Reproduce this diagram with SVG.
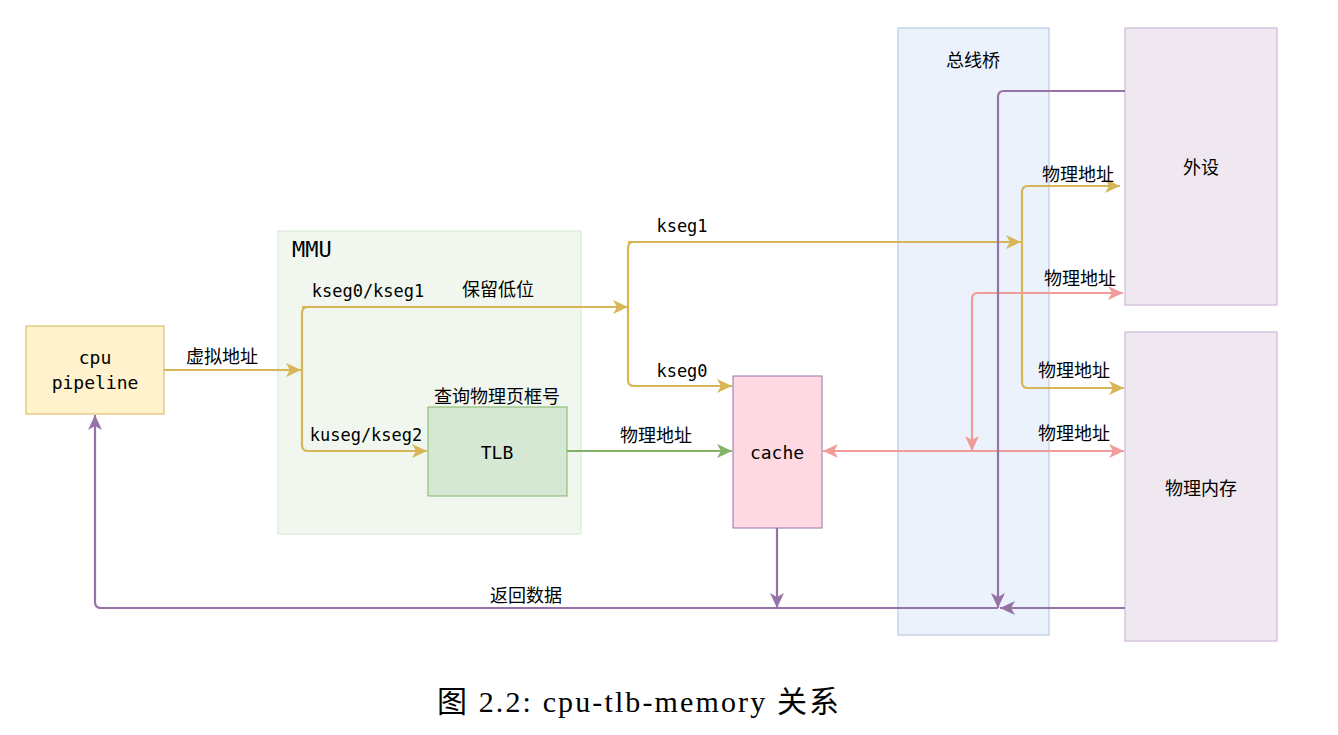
<svg xmlns="http://www.w3.org/2000/svg" width="1338" height="735" viewBox="0 0 1338 735">
<style>
.mono{font-family:"DejaVu Sans Mono","Liberation Mono",monospace;fill:#000}
.cjk{font-family:"Noto Sans CJK SC","Noto Sans",sans-serif;fill:#000;font-size:18px}
.c{text-anchor:middle}
.e{fill:none;stroke-width:2.2}
.y{stroke:#d6b656}.g{stroke:#82b366}.p{stroke:#f19c99}.v{stroke:#9673a6}
</style>
<defs>
<marker id="ay" markerWidth="17" markerHeight="16" refX="15" refY="8" orient="auto" markerUnits="userSpaceOnUse"><path d="M0,1 L15,8 L0,15 L4,8 z" fill="#d6b656"/></marker>
<marker id="ag" markerWidth="17" markerHeight="16" refX="15" refY="8" orient="auto" markerUnits="userSpaceOnUse"><path d="M0,1 L15,8 L0,15 L4,8 z" fill="#82b366"/></marker>
<marker id="ap" markerWidth="17" markerHeight="16" refX="15" refY="8" orient="auto-start-reverse" markerUnits="userSpaceOnUse"><path d="M0,1 L15,8 L0,15 L4,8 z" fill="#f19c99"/></marker>
<marker id="av" markerWidth="17" markerHeight="16" refX="15" refY="8" orient="auto" markerUnits="userSpaceOnUse"><path d="M0,1 L15,8 L0,15 L4,8 z" fill="#9673a6"/></marker>
</defs>
<rect width="1338" height="735" fill="#fff"/>
<g id="mmu">
<rect x="278" y="231" width="303" height="303" fill="#f1f7ee" stroke="#d5e8d4" stroke-width="1"/>
<text class="mono" x="292" y="257" font-size="22">MMU</text>
</g>
<g id="bridge">
<rect x="898" y="28" width="151" height="607" fill="#ebf2fc" stroke="#b9cbe2" stroke-width="1.2"/>
<text class="cjk c" x="973" y="67">总线桥</text>
</g>
<g id="cpu">
<rect x="26" y="326" width="138" height="88" fill="#fff2cc" stroke="#d6b656" stroke-width="1"/>
<text class="mono c" x="95" y="364" font-size="18">cpu</text>
<text class="mono c" x="95" y="389" font-size="18">pipeline</text>
</g>
<g id="tlb">
<rect x="428" y="407" width="139" height="89" fill="#d5e8d4" stroke="#82b366" stroke-width="1"/>
<text class="mono c" x="497" y="459" font-size="18">TLB</text>
<text class="cjk c" x="497" y="403">查询物理页框号</text>
</g>
<g id="cache">
<rect x="733" y="376" width="89" height="152" fill="#ffd9e1" stroke="#9673a6" stroke-width="1"/>
<text class="mono c" x="777" y="459" font-size="18">cache</text>
</g>
<g id="periph">
<rect x="1125" y="28" width="152" height="277" fill="#efe8f1" stroke="#cdb9d9" stroke-width="1.2"/>
<text class="cjk c" x="1201" y="174">外设</text>
</g>
<g id="mem">
<rect x="1125" y="332" width="152" height="309" fill="#efe8f1" stroke="#cdb9d9" stroke-width="1.2"/>
<text class="cjk c" x="1201" y="495">物理内存</text>
</g>
<g id="connectors">
<path class="e y" d="M164,370 H301" marker-end="url(#ay)"/>
<path class="e y" d="M628,307 H308 Q302,307 302,313 V445 Q302,451 308,451 H427" marker-end="url(#ay)"/>
<path class="e y" d="M302,307 H628" marker-end="url(#ay)"/>
<path class="e y" d="M1021,242 H634 Q628,242 628,248 V380 Q628,386 634,386 H732" marker-end="url(#ay)"/>
<path class="e y" d="M628,242 H1021" marker-end="url(#ay)"/>
<path class="e y" d="M1120,186 H1028 Q1022,186 1022,192 V382 Q1022,388 1028,388 H1124" marker-end="url(#ay)"/>
<path class="e y" d="M1028,186 H1120" marker-end="url(#ay)"/>
<path class="e g" d="M567,451 H732" marker-end="url(#ag)"/>
<path class="e p" d="M823,451 H1124" marker-start="url(#ap)" marker-end="url(#ap)"/>
<path class="e p" d="M1123,293 H978 Q972,293 972,299 V451" marker-start="url(#ap)" marker-end="url(#ap)"/>
<path class="e v" d="M1125,91 H1004 Q998,91 998,97 V608" marker-end="url(#av)"/>
<path class="e v" d="M1125,608 H1000" marker-end="url(#av)"/>
<path class="e v" d="M998,608 H101 Q95,608 95,602 V415" marker-end="url(#av)"/>
<path class="e v" d="M777,528 V608" marker-end="url(#av)"/>
<text class="cjk c" x="222" y="363">虚拟地址</text>
<text class="mono c" x="368" y="297" font-size="17">kseg0/kseg1</text>
<text class="cjk c" x="498" y="296">保留低位</text>
<text class="mono c" x="366" y="441" font-size="17">kuseg/kseg2</text>
<text class="mono c" x="682" y="232" font-size="17">kseg1</text>
<text class="mono c" x="682" y="377" font-size="17">kseg0</text>
<text class="cjk c" x="656" y="442">物理地址</text>
<text class="cjk c" x="1078" y="181">物理地址</text>
<text class="cjk c" x="1080" y="285">物理地址</text>
<text class="cjk c" x="1074" y="377">物理地址</text>
<text class="cjk c" x="1074" y="440">物理地址</text>
<text class="cjk c" x="526" y="602">返回数据</text>
</g>
<text x="638" y="712" text-anchor="middle" font-family="'Liberation Serif','Noto Sans CJK SC',serif" font-size="30" textLength="402" lengthAdjust="spacing">图 2.2: cpu-tlb-memory 关系</text>
</svg>
